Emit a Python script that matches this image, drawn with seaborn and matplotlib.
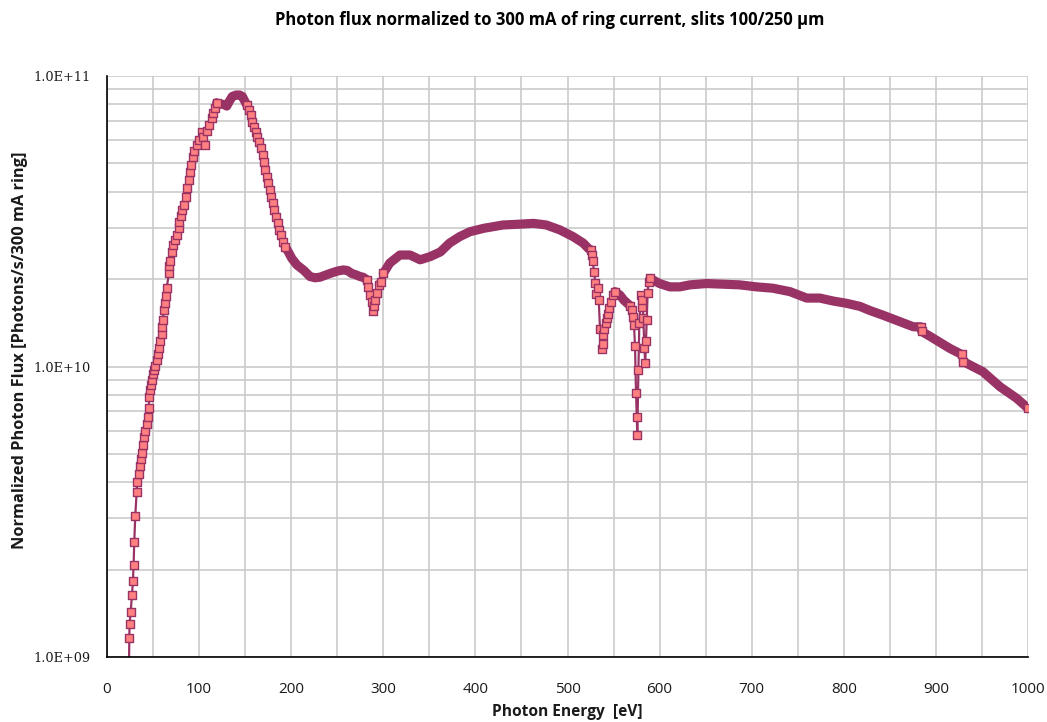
import numpy as np
import pandas as pd
import matplotlib
matplotlib.use("Agg")
import matplotlib.pyplot as plt
from matplotlib.ticker import FixedLocator, FuncFormatter, LogLocator, MultipleLocator, NullFormatter
import seaborn as sns

# Photon energy (eV) and measured flux (photons/s, normalized to 300 mA)
energy_ev = [
    23.8, 24.2, 24.5, 25.7, 27.1, 28.2, 28.9, 29.6, 30.7, 32.2, 32.8, 34.4, 36.2, 36.6,
    37.7, 39.1, 40.5, 41.3, 43.1, 44.8, 45.3, 45.9, 46.7, 47.4, 48.5, 50.3, 51.4, 52.1,
    54.0, 55.4, 56.1, 57.5, 59.4, 59.8, 60.3, 62.2, 63.2, 64.0, 64.8, 67.3, 67.6, 68.7,
    70.2, 72.0, 74.2, 75.7, 77.9, 78.5, 80.3, 81.8, 83.6, 85.5, 87.2, 89.0, 90.1, 91.5,
    93.0, 94.8, 97.4, 99.6, 102.8, 104.5, 106.4, 108.9, 110.4, 113.7, 115.4, 117.3, 119.1,
    121.0, 124.0, 127.0, 130.0, 133.0, 136.0, 140.0, 144.0, 147.0, 148.0, 151.7, 154.2,
    156.0, 157.8, 159.6, 161.5, 163.2, 165.4, 167.2, 169.1, 170.5, 171.9, 173.4, 175.1,
    177.0, 178.1, 179.9, 181.6, 183.2, 185.3, 187.1, 188.9, 191.4, 193.6, 196.9, 200.5,
    206.0, 213.9, 220.4, 226.0, 231.3, 242.1, 250.0, 256.6, 261.0, 265.7, 270.0, 274.7,
    278.0, 282.0, 283.5, 285.6, 287.4, 288.5, 289.5, 291.0, 292.8, 295.7, 297.5, 300.0,
    307.0, 318.0, 329.0, 340.0, 351.0, 362.0, 372.0, 383.0, 394.0, 409.0, 430.0, 448.0,
    463.0, 477.0, 492.0, 506.0, 517.0, 522.6, 525.2, 526.3, 527.4, 528.8, 530.2, 531.0,
    532.8, 533.9, 535.3, 537.1, 538.2, 538.8, 539.9, 541.8, 543.2, 544.3, 545.4, 547.0,
    549.7, 551.6, 557.0, 561.3, 567.9, 569.7, 571.4, 572.2, 573.3, 574.4, 575.2, 575.8,
    577.0, 578.0, 579.5, 580.6, 581.3, 582.3, 583.5, 584.4, 585.2, 586.0, 587.0, 588.0,
    589.6, 600.0, 611.0, 622.0, 633.0, 651.0, 669.0, 687.0, 705.0, 723.0, 741.6, 759.7,
    774.0, 788.6, 803.0, 817.6, 828.0, 843.0, 875.5, 883.5, 884.6, 893.6, 915.0, 928.0,
    929.7, 940.0, 951.0, 969.6, 987.7, 1000.0,
]
flux = [
    0.85e9, 1.16e9, 1.30e9, 1.43e9, 1.63e9, 1.83e9, 2.08e9, 2.49e9, 3.06e9, 3.69e9, 4.00e9, 4.27e9, 4.55e9, 4.80e9,
    5.05e9, 5.37e9, 5.71e9, 5.98e9, 6.32e9, 6.69e9, 7.22e9, 7.83e9, 8.30e9, 8.62e9, 8.98e9, 9.42e9, 9.72e9, 1.006e10,
    1.05e10, 1.10e10, 1.155e10, 1.22e10, 1.29e10, 1.37e10, 1.45e10, 1.56e10, 1.65e10, 1.75e10, 1.87e10, 2.09e10, 2.21e10, 2.30e10,
    2.48e10, 2.61e10, 2.73e10, 2.84e10, 2.99e10, 3.15e10, 3.30e10, 3.46e10, 3.60e10, 3.84e10, 4.11e10, 4.39e10, 4.68e10, 4.94e10,
    5.27e10, 5.53e10, 5.79e10, 6.02e10, 6.43e10, 6.15e10, 5.79e10, 6.48e10, 6.78e10, 7.15e10, 7.44e10, 7.74e10, 8.09e10,
    8.00e10, 8.00e10, 7.98e10, 7.88e10, 8.20e10, 8.50e10, 8.60e10, 8.60e10, 8.50e10, 8.38e10, 7.95e10, 7.64e10,
    7.34e10, 6.96e10, 6.69e10, 6.43e10, 6.18e10, 5.94e10, 5.64e10, 5.35e10, 5.07e10, 4.75e10, 4.50e10, 4.27e10,
    4.05e10, 3.84e10, 3.65e10, 3.46e10, 3.28e10, 3.11e10, 2.95e10, 2.84e10, 2.69e10, 2.58e10, 2.48e10, 2.36e10,
    2.24e10, 2.14e10, 2.04e10, 2.02e10, 2.03e10, 2.09e10, 2.13e10, 2.15e10, 2.14e10, 2.09e10, 2.07e10, 2.04e10,
    2.03e10, 1.99e10, 1.88e10, 1.76e10, 1.67e10, 1.55e10, 1.62e10, 1.69e10, 1.79e10, 1.91e10, 1.95e10, 2.09e10,
    2.27e10, 2.42e10, 2.42e10, 2.33e10, 2.39e10, 2.48e10, 2.66e10, 2.80e10, 2.91e10, 2.99e10, 3.07e10, 3.09e10,
    3.11e10, 3.07e10, 2.95e10, 2.80e10, 2.66e10, 2.55e10, 2.52e10, 2.42e10, 2.30e10, 2.12e10, 1.94e10, 1.78e10,
    1.86e10, 1.69e10, 1.35e10, 1.146e10, 1.196e10, 1.28e10, 1.35e10, 1.41e10, 1.47e10, 1.52e10, 1.59e10, 1.67e10,
    1.76e10, 1.81e10, 1.76e10, 1.69e10, 1.62e10, 1.57e10, 1.48e10, 1.39e10, 1.18e10, 8.09e9, 6.72e9, 5.81e9,
    9.72e9, 1.41e10, 1.76e10, 1.60e10, 1.69e10, 1.47e10, 1.155e10, 1.026e10, 1.22e10, 1.445e10, 1.79e10, 1.96e10,
    2.01e10, 1.93e10, 1.88e10, 1.88e10, 1.91e10, 1.93e10, 1.92e10, 1.91e10, 1.88e10, 1.86e10, 1.81e10, 1.72e10,
    1.72e10, 1.68e10, 1.65e10, 1.61e10, 1.56e10, 1.50e10, 1.37e10, 1.37e10, 1.32e10, 1.27e10, 1.155e10, 1.10e10,
    1.04e10, 1.00e10, 9.6e9, 8.52e9, 7.77e9, 7.18e9,
]

x_ticks = list(range(0, 1001, 100))
y_ticks = [1e9, 1e10, 1e11]
title = "Photon flux normalized to 300 mA of ring current, slits 100/250 \u00b5m"
x_label = "Photon Energy  [eV]"
y_label = "Normalized Photon Flux [Photons/s/300 mA ring]"

PLUM = "#993366"
SALMON = "#FF8080"
GRID = "#cbcbcb"

sns.set_theme(style="white")
plt.rcParams["font.family"] = ["Open Sans", "DejaVu Sans"]

df = pd.DataFrame({"energy": energy_ev, "flux": flux})

W, H = 1047, 722
fig = plt.figure(figsize=(W / 100, H / 100), dpi=100)
ax = fig.add_axes([107 / W, 65 / H, 921 / W, 581 / H])
ax.set_yscale("log")
ax.set_xlim(0, 1000)
ax.set_ylim(1e9, 1e11)

# thin connecting line through every sample
sns.lineplot(data=df, x="energy", y="flux", ax=ax, color=PLUM, lw=1.6,
             estimator=None, sort=False, zorder=2)

# where samples crowd together the markers merge into a solid band;
# steep stretches keep separate square markers
e = df["energy"].to_numpy()
logf = np.log10(df["flux"].to_numpy())
bbox = ax.get_window_extent()
px_x = bbox.width / 1000.0
px_y = bbox.height / 2.0
disp_slope = np.abs(np.diff(logf)) * px_y / (np.diff(e) * px_x)
steep = disp_slope > 2.0

runs = []
start = None
for i, s in enumerate(steep):
    if not s and start is None:
        start = i
    if s and start is not None:
        runs.append((start, i))
        start = None
if start is not None:
    runs.append((start, len(steep)))
for a, b in runs:
    seg = df.iloc[a:b + 1]
    ax.plot(seg["energy"], seg["flux"], color=PLUM, lw=6.6,
            solid_capstyle="round", solid_joinstyle="round", zorder=3)

show = np.zeros(len(e), dtype=bool)
show[:-1] |= steep
show[1:] |= steep
show[0] = show[-1] = True
sns.scatterplot(data=df[show], x="energy", y="flux", ax=ax, marker="s", s=30,
                color=SALMON, edgecolor=PLUM, linewidth=1.0, zorder=4)

# axes, ticks and grid
ax.xaxis.set_major_locator(FixedLocator(x_ticks))
ax.xaxis.set_minor_locator(MultipleLocator(50))
ax.yaxis.set_major_locator(FixedLocator(y_ticks))
ax.yaxis.set_minor_locator(LogLocator(base=10, subs=np.arange(2, 10)))
ax.yaxis.set_minor_formatter(NullFormatter())
ax.yaxis.set_major_formatter(FuncFormatter(lambda v, _: f"{v:.1E}"))
ax.set_axisbelow(True)
ax.grid(which="both", axis="both", color=GRID, lw=1.2)

ax.tick_params(which="minor", length=0)
ax.tick_params(axis="x", which="major", direction="out", length=6, width=1.1,
               color="black", pad=12, labelsize=11, labelcolor="#1a1a1a")
ax.tick_params(axis="y", which="major", direction="out", length=6, width=1.1,
               color="black", pad=6, labelsize=9.3, labelcolor="#1a1a1a")
for lab in ax.get_yticklabels():
    lab.set_fontfamily("DejaVu Serif")

for side in ("top", "right"):
    ax.spines[side].set_visible(False)
for side in ("left", "bottom"):
    ax.spines[side].set_color("black")
    ax.spines[side].set_linewidth(1.2)

ax.set_xlabel("")
ax.set_ylabel("")
fig.text(550 / W, 1 - 20 / H, title, ha="center", va="center",
         fontsize=12, fontweight="bold", color="black")
fig.text(567 / W, 1 - 712 / H, x_label, ha="center", va="center",
         fontsize=11.2, fontweight="bold", color="#1a1a1a")
fig.text(20 / W, 1 - 350 / H, y_label, ha="center", va="center", rotation=90,
         fontsize=11.8, fontweight="bold", color="#1a1a1a")

fig.savefig("out.png", dpi=100)
